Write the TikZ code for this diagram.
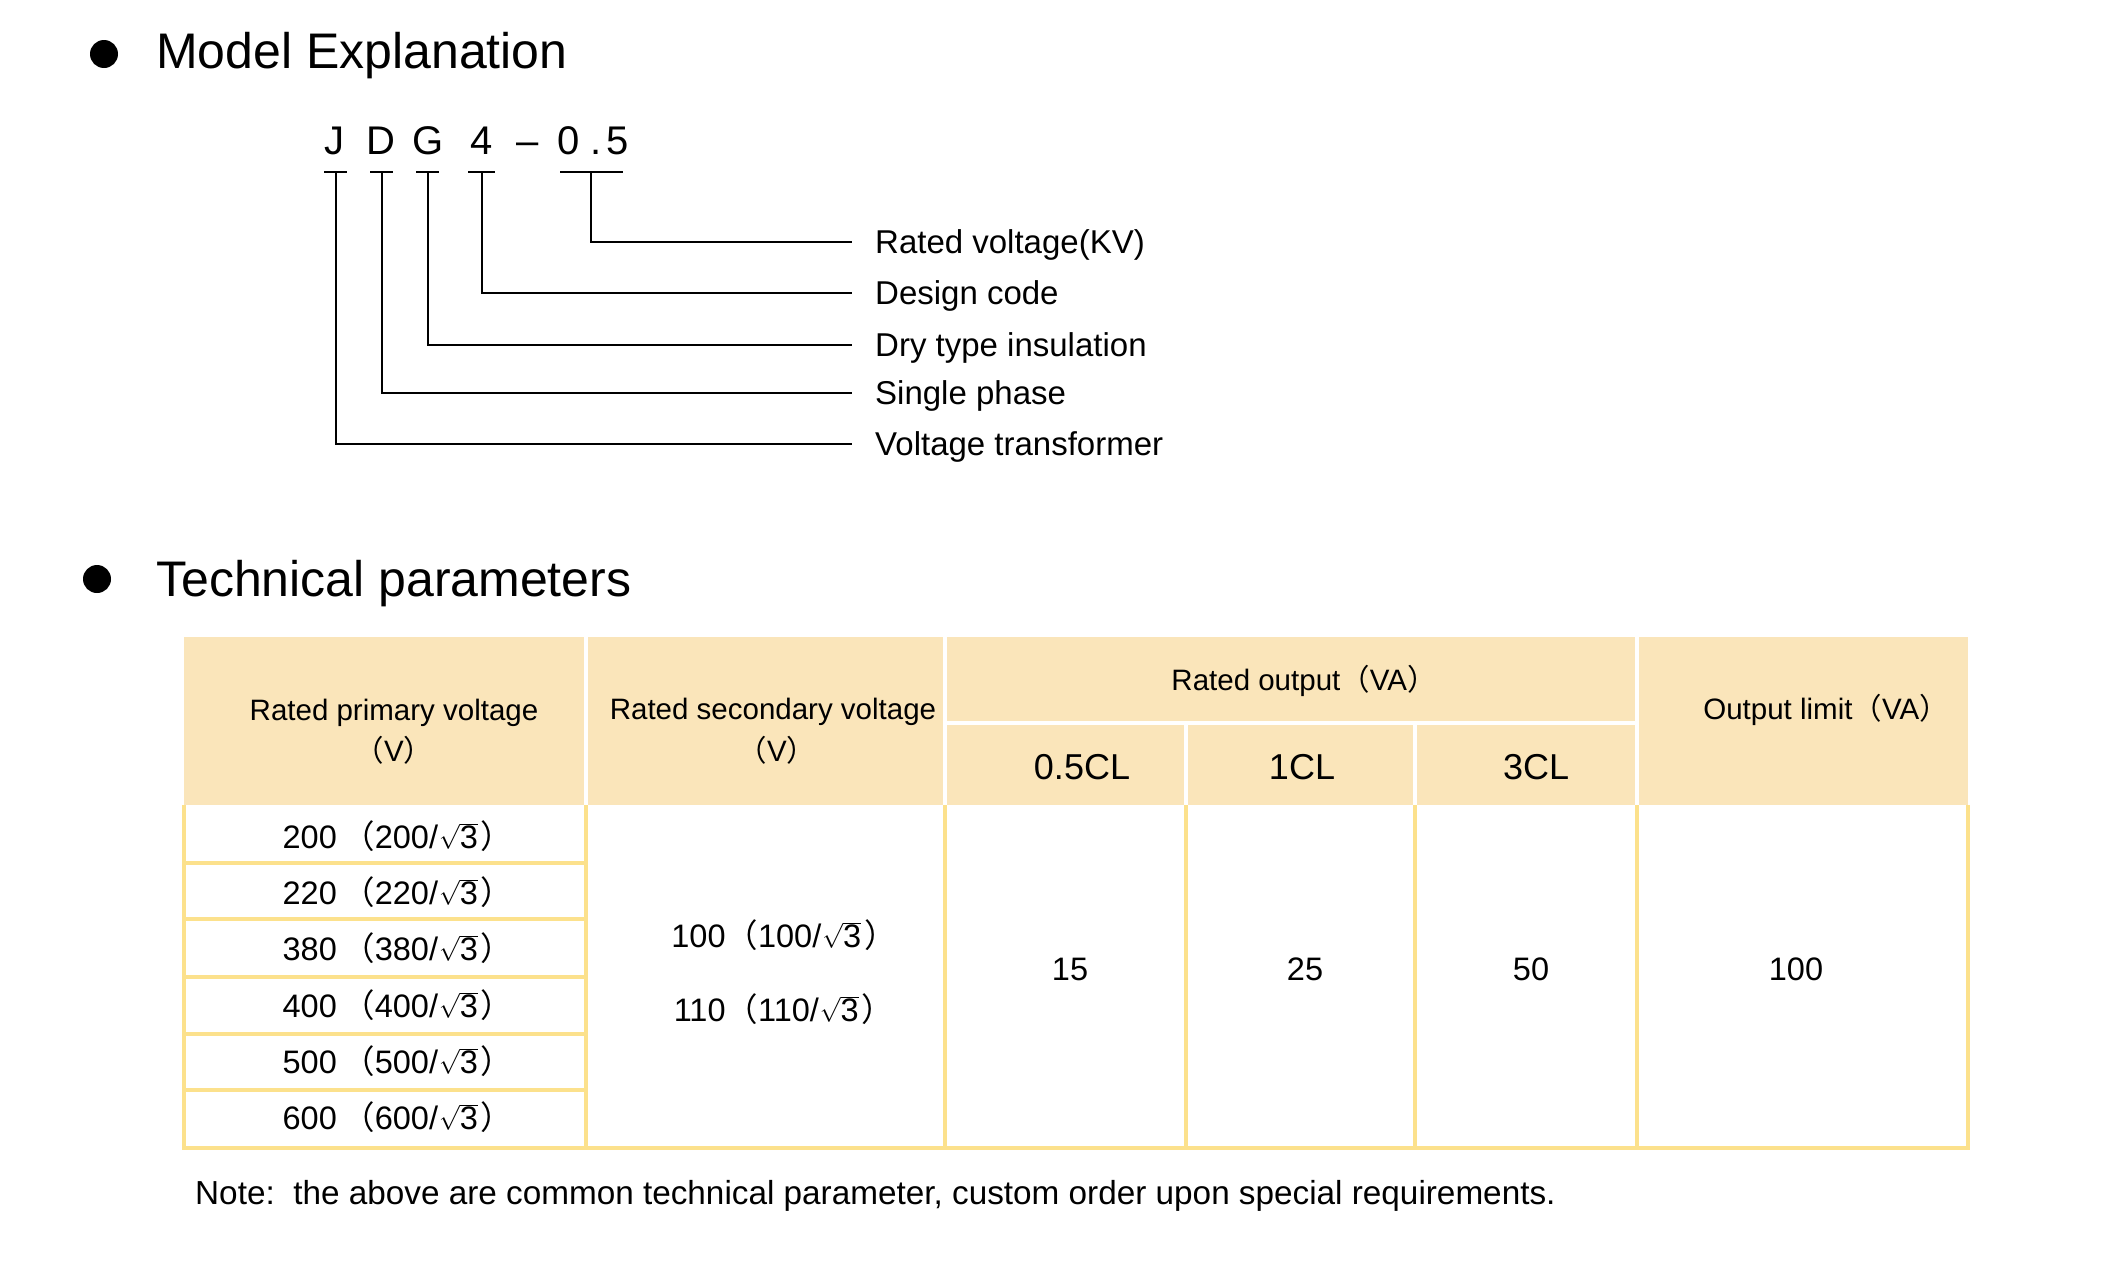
\documentclass[tikz,border=0pt]{standalone}
\usepackage{fontspec}
\setmainfont{Liberation Sans}
\newfontfamily\cjk{Noto Sans CJK SC}
\definecolor{hdrfill}{RGB}{250,229,186}
\definecolor{gridy}{RGB}{252,225,140}
\newcommand\lpar{{\cjk （}}
\newcommand\rpar{{\cjk ）}}
\newcommand\rtthree{\kern1pt$\sqrt{\mbox{3}}$\kern3pt}
\begin{document}
\begin{tikzpicture}[x=1pt,y=-1pt,
  ttl/.style={font=\fontsize{50}{60}\selectfont, anchor=west, inner sep=0pt, text height=35.8pt, text depth=0pt},
  code/.style={font=\fontsize{40}{48}\selectfont, inner sep=0pt, text height=28.6pt, text depth=0pt},
  lbl/.style={font=\fontsize{33}{40}\selectfont, anchor=west, inner xsep=23pt, inner ysep=0pt, text height=23.6pt, text depth=0pt},
  hdr/.style={font=\fontsize{29.5}{36}\selectfont, inner sep=0pt, text height=21.1pt, text depth=0pt},
  cls/.style={font=\fontsize{36}{44}\selectfont, inner sep=0pt, text height=25.8pt, text depth=0pt},
  val/.style={font=\fontsize{32.5}{40}\selectfont, inner sep=0pt, text height=23.3pt, text depth=0pt},
  note/.style={font=\fontsize{33.3}{40}\selectfont, anchor=west, inner sep=0pt, text height=23.8pt, text depth=0pt},
  dot/.style={circle, fill=black, minimum size=28pt, inner sep=0pt},
  wire/.style={line width=2pt, black},
  uline/.style={line width=2pt, black},
  sep/.style={line width=4pt, white},
  gridline/.style={line width=4pt, gridy},
]
\useasboundingbox (0,0) rectangle (2111,1269);
\fill[white] (0,0) rectangle (2111,1269);

% ---- Model explanation ----
\node[dot] (b1) at (104,54) {};
\node[ttl] (t1) at (156,51) {Model Explanation};

\node[code] (cJ) at (334,140) {J};
\node[code] (cD) at (381,140) {D};
\node[code] (cG) at (428,140) {G};
\node[code] (c4) at (482,140) {4};
\node[code] (cdash) at (528,140) {–};
\node[code] (c0) at (569,140) {0};
\node[code] (cdot) at (596,140) {.};
\node[code] (c5) at (618,140) {5};

\coordinate (uJ) at (336,172);
\coordinate (uD) at (382,172);
\coordinate (uG) at (428,172);
\coordinate (u4) at (482,172);
\coordinate (u5) at (591,172);
\draw[uline] (324,172) -- (347,172);
\draw[uline] (370,172) -- (393,172);
\draw[uline] (416,172) -- (439,172);
\draw[uline] (468,172) -- (495,172);
\draw[uline] (560,172) -- (623,172);

\node[lbl] (lrv) at (852,242) {Rated voltage(KV)};
\node[lbl] (ldc) at (852,293) {Design code};
\node[lbl] (ldt) at (852,345) {Dry type insulation};
\node[lbl] (lsp) at (852,393) {Single phase};
\node[lbl] (lvt) at (852,444) {Voltage transformer};

\draw[wire] (u5) |- (lrv.west);
\draw[wire] (u4) |- (ldc.west);
\draw[wire] (uG) |- (ldt.west);
\draw[wire] (uD) |- (lsp.west);
\draw[wire] (uJ) |- (lvt.west);

% ---- Technical parameters ----
\node[dot] (b2) at (97,579) {};
\node[ttl] (t2) at (156,579) {Technical parameters};

\fill[hdrfill] (184,637) rectangle (1968,805);
\draw[sep] (586,637) -- (586,805);
\draw[sep] (945,637) -- (945,805);
\draw[sep] (1637,637) -- (1637,805);
\draw[sep] (945,723) -- (1637,723);
\draw[sep] (1186,723) -- (1186,805);
\draw[sep] (1415,723) -- (1415,805);

\draw[gridline] (184,805) -- (184,1148) -- (1968,1148) -- (1968,805);
\foreach \cx in {586,945,1186,1415,1637} \draw[gridline] (\cx,805) -- (\cx,1148);
\foreach \ry in {863,919,977,1034,1090} \draw[gridline] (184,\ry) -- (586,\ry);

\node[hdr] (h1) at (394,710) {Rated primary voltage};
\node[hdr] (h1v) at (394,751) {\lpar V\rpar};
\node[hdr] (h2) at (773,709) {Rated secondary voltage};
\node[hdr] (h2v) at (777,751) {\lpar V\rpar};
\node[hdr] (h3) at (1304,680) {Rated output\lpar VA\rpar};
\node[hdr] (h4) at (1826,709) {Output limit\lpar VA\rpar};
\node[cls] (k1) at (1082,767) {0.5CL};
\node[cls] (k2) at (1302,767) {1CL};
\node[cls] (k3) at (1536,767) {3CL};

\node[val] (p1) at (398,837) {200\,\lpar 200/\rtthree\rpar};
\node[val] (p2) at (398,893) {220\,\lpar 220/\rtthree\rpar};
\node[val] (p3) at (398,949) {380\,\lpar 380/\rtthree\rpar};
\node[val] (p4) at (398,1006) {400\,\lpar 400/\rtthree\rpar};
\node[val] (p5) at (398,1062) {500\,\lpar 500/\rtthree\rpar};
\node[val] (p6) at (398,1118) {600\,\lpar 600/\rtthree\rpar};

\node[val] (s1) at (784,936) {100\lpar 100/\rtthree\rpar};
\node[val] (s2) at (784,1010) {110\lpar 110/\rtthree\rpar};

\node[val] (o1) at (1070,969) {15};
\node[val] (o2) at (1305,969) {25};
\node[val] (o3) at (1531,969) {50};
\node[val] (o4) at (1796,969) {100};

\node[note] (nt) at (195,1193) {Note:\ \ the above are common technical parameter, custom order upon special requirements.};
\end{tikzpicture}
\end{document}
